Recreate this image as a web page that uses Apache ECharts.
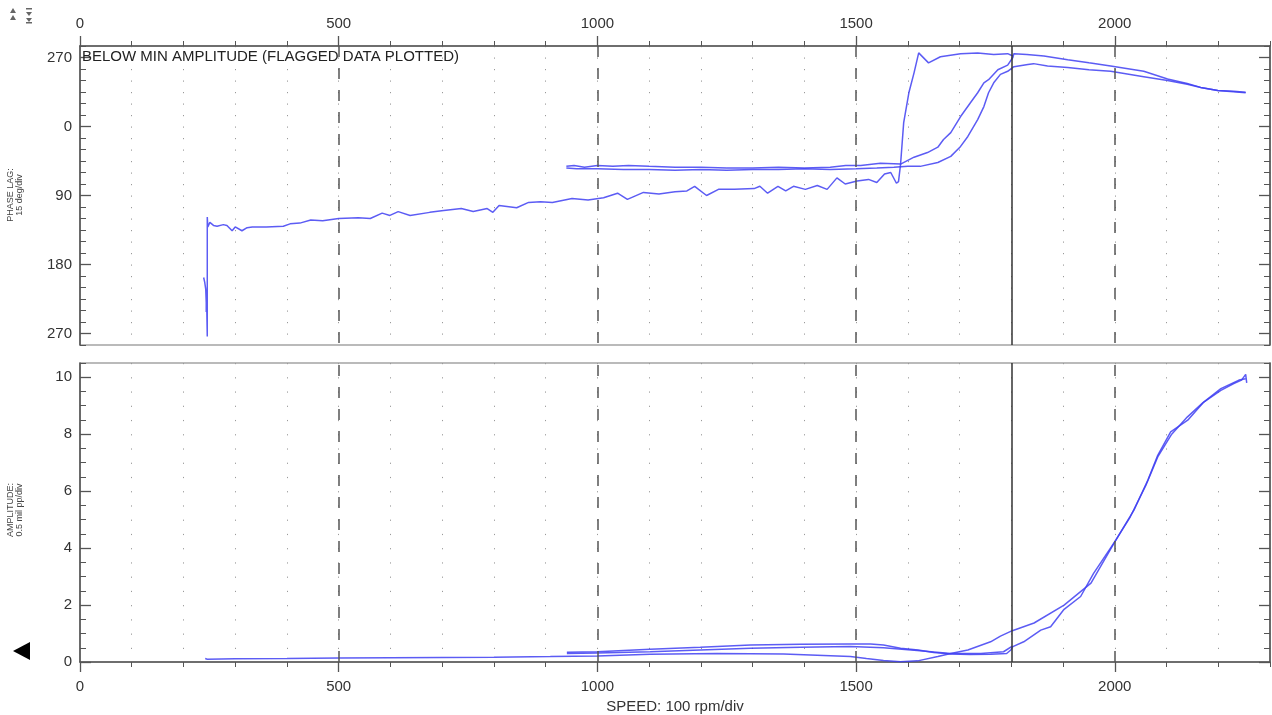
<!DOCTYPE html>
<html><head><meta charset="utf-8">
<script src="https://cdn.jsdelivr.net/npm/echarts@6/dist/echarts.min.js"></script>
<style>html,body{margin:0;padding:0;background:#fff}#c{width:1272px;height:715px}</style>
</head><body><div id="c"></div>
<script>
// ---- tick labels / reference lines ----
const speedLabels = [0, 500, 1000, 1500, 2000];
const phaseLabels = [-90, 0, 90, 180, 270];   // -90 is shown as 270 (phase wrap)
const ampLabels = [0, 2, 4, 6, 8, 10];
const dashedAt = [500, 1000, 1500, 2000];
const cursorRpm = 1800;
const flagText = 'BELOW MIN AMPLITUDE (FLAGGED DATA PLOTTED)';

// ---- phase lag traces [rpm, deg] ----
const phaseA = [[239,197],[241,203],[243,212],[244,230],[244,242],[245,222],[245,236],[246,274],[246,118],[247,131],[251,125],[258,129],[265,130],[277,128],[284,129],[294,136],[300,131],[313,136],[323,132],[333,131],[360,131],[393,130],[406,127],[425,126],[446,122],[469,123],[500,120],[538,119],[561,120],[584,113],[599,116],[615,111],[638,116],[676,112],[699,110],[737,107],[760,111],[787,107],[798,112],[810,103],[844,106],[867,99],[890,98],[913,99],[951,94],[982,96],[1012,93],[1039,87],[1058,95],[1089,86],[1119,88],[1150,85],[1173,84],[1188,78],[1211,90],[1234,82],[1265,82],[1303,81],[1314,78],[1329,87],[1349,78],[1364,84],[1379,78],[1402,82],[1425,77],[1444,82],[1463,67],[1479,75],[1502,71],[1524,69],[1540,73],[1555,62],[1567,60],[1578,74],[1582,72],[1586,49],[1592,-5],[1602,-44],[1612,-70],[1621,-96],[1640,-83],[1663,-91],[1702,-95],[1735,-96],[1766,-94],[1793,-95],[1803,-92]];
const phaseB = [[940,52],[955,51],[975,53],[1000,51],[1030,52],[1060,51],[1100,52],[1150,53],[1200,53],[1250,54],[1300,54],[1350,53],[1400,54],[1450,53],[1480,51],[1509,51],[1547,48],[1586,49],[1612,40],[1638,34],[1658,27],[1669,17],[1683,8],[1702,-13],[1721,-31],[1735,-44],[1747,-57],[1756,-61],[1774,-74],[1793,-80],[1803,-90],[1805,-95],[1830,-94],[1863,-92],[1909,-87],[1950,-83],[1992,-79],[2056,-72],[2102,-62],[2140,-56],[2166,-51],[2199,-47],[2230,-46],[2253,-44.6]];
const phaseC = [[940,54],[960,55],[1000,55],[1050,56],[1100,56],[1150,57],[1200,56],[1250,57],[1300,56],[1350,56],[1400,55],[1450,56],[1500,55],[1540,54],[1573,53],[1600,52],[1624,52],[1658,47],[1683,39],[1702,26],[1716,13],[1735,-9],[1747,-26],[1756,-44],[1766,-57],[1779,-68],[1793,-72],[1805,-78],[1832,-81],[1843,-82],[1870,-79],[1909,-77],[1950,-74],[1992,-72],[2056,-65],[2102,-60],[2140,-55],[2166,-51],[2199,-47],[2253,-44]];

// ---- amplitude traces [rpm, mil pp] ----
const ampA = [[242,0.12],[246,0.1],[300,0.11],[400,0.12],[500,0.14],[600,0.15],[700,0.16],[800,0.17],[909,0.19],[1000,0.21],[1102,0.27],[1231,0.3],[1360,0.28],[1489,0.19],[1520,0.12],[1553,0.05],[1586,0.01],[1619,0.04],[1658,0.19],[1683,0.3],[1716,0.42],[1760,0.71],[1779,0.91],[1802,1.1],[1844,1.37],[1902,2.0],[1954,2.77],[2002,4.28],[2037,5.33],[2064,6.39],[2083,7.26],[2108,8.08],[2141,8.49],[2172,9.13],[2205,9.54],[2230,9.78],[2245,9.9],[2253,10.1],[2255,9.8]];
const ampB = [[941,0.34],[1000,0.36],[1102,0.45],[1199,0.52],[1296,0.6],[1393,0.62],[1489,0.63],[1528,0.63],[1553,0.6],[1586,0.48],[1620,0.42],[1650,0.33],[1683,0.28],[1720,0.26],[1760,0.27],[1791,0.3],[1799,0.42],[1803,0.54],[1805,0.6],[1824,0.71],[1857,1.12],[1876,1.24],[1902,1.85],[1934,2.3],[1959,3.11],[2002,4.28],[2030,5.1],[2060,6.2],[2083,7.2],[2110,8.0],[2140,8.6],[2170,9.1],[2205,9.6],[2240,9.9],[2253,9.95]];
const ampC = [[941,0.3],[1000,0.32],[1102,0.36],[1199,0.42],[1296,0.48],[1393,0.52],[1489,0.54],[1553,0.5],[1618,0.4],[1683,0.3],[1741,0.3],[1785,0.36],[1802,0.56]];

const FONT = 'Liberation Sans, Arial, sans-serif';
const AX = '#555';
const LBL = '#333';
const TRACE = '#4040f2';

function xAxes(grid, pos, labelMargin, dot) {
  return [
    { gridIndex: grid, type: 'value', position: pos, min: 0, max: 2300, interval: 100,
      axisLine: { show: true, onZero: false, lineStyle: { color: AX, width: 1.5 } },
      axisTick: { show: true, inside: false, length: 5, lineStyle: { color: AX } },
      axisLabel: { customValues: speedLabels, fontSize: 15, color: LBL, fontFamily: FONT, margin: labelMargin, formatter: v => String(v) },
      splitLine: { show: true, lineStyle: { color: '#9a9a9a', width: 1, type: dot } } },
    { gridIndex: grid, type: 'value', position: pos, min: 0, max: 2300, interval: 100,
      axisLine: { show: false, onZero: false },
      axisTick: { show: true, inside: false, length: 10, customValues: speedLabels, lineStyle: { color: AX, width: 1.3 } },
      axisLabel: { show: false }, splitLine: { show: false } }
  ];
}
function yAxes(grid, min, max, step, majors, inverse, fmt) {
  const base = { gridIndex: grid, type: 'value', min: min, max: max, interval: step, inverse: inverse, splitLine: { show: false } };
  return [
    Object.assign({}, base, { position: 'left',
      axisLine: { show: true, onZero: false, lineStyle: { color: AX, width: 1.5 } },
      axisTick: { show: true, inside: true, length: 6, lineStyle: { color: AX } },
      axisLabel: { customValues: majors, fontSize: 15, color: LBL, fontFamily: FONT, margin: 8, formatter: fmt } }),
    Object.assign({}, base, { position: 'left', axisLine: { show: false, onZero: false },
      axisTick: { show: true, inside: true, length: 11, customValues: majors, lineStyle: { color: AX, width: 1.3 } },
      axisLabel: { show: false } }),
    Object.assign({}, base, { position: 'right',
      axisLine: { show: true, onZero: false, lineStyle: { color: AX, width: 1.5 } },
      axisTick: { show: true, inside: true, length: 6, lineStyle: { color: AX } },
      axisLabel: { show: false } }),
    Object.assign({}, base, { position: 'right', axisLine: { show: false, onZero: false },
      axisTick: { show: true, inside: true, length: 11, customValues: majors, lineStyle: { color: AX, width: 1.3 } },
      axisLabel: { show: false } })
  ];
}

const refLines = dashedAt.map(v => ({ xAxis: v, lineStyle: { type: [11, 11], color: '#555', width: 1.5 } }))
  .concat([{ xAxis: cursorRpm, lineStyle: { type: 'solid', color: '#333', width: 1.5 } }]);
const markLine = { silent: true, symbol: 'none', label: { show: false }, animation: false, data: refLines };

function trace(data, xi, yi, withMark) {
  const s = { type: 'line', data: data, xAxisIndex: xi, yAxisIndex: yi, symbol: 'none', smooth: false,
    lineStyle: { color: TRACE, width: 1.5, opacity: 0.85 }, z: 3 };
  if (withMark) s.markLine = markLine;
  return s;
}

const chart = echarts.init(document.getElementById('c'), null, { renderer: 'canvas' });
chart.setOption({
  animation: false,
  backgroundColor: '#fff',
  textStyle: { fontFamily: FONT },
  grid: [
    { left: 80, right: 2, top: 46, height: 299, show: true, borderColor: '#777', borderWidth: 1.2, backgroundColor: 'transparent' },
    { left: 80, right: 2, top: 363, height: 299, show: true, borderColor: '#777', borderWidth: 1.2, backgroundColor: 'transparent' }
  ],
  xAxis: xAxes(0, 'top', 15, [1.2, 10.3]).concat(xAxes(1, 'bottom', 17, [1.2, 13.04])),
  yAxis: yAxes(0, -105, 285, 15, phaseLabels, true, v => String(v < 0 ? v + 360 : v))
    .concat(yAxes(1, 0, 10.5, 0.5, ampLabels, false, v => String(v))),
  series: [
    trace(phaseA, 0, 0, true), trace(phaseB, 0, 0, false), trace(phaseC, 0, 0, false),
    trace(ampA, 2, 4, true), trace(ampB, 2, 4, false), trace(ampC, 2, 4, false)
  ],
  graphic: [
    { type: 'text', x: 82, y: 57, z: 10, style: { text: flagText, font: '15px ' + FONT, fill: '#222', textVerticalAlign: 'middle' } },
    { type: 'text', x: 15, y: 195, rotation: Math.PI / 2, style: { text: 'PHASE LAG:\n15 deg/div', font: '9px ' + FONT, fill: '#444', textAlign: 'center', textVerticalAlign: 'middle', lineHeight: 9 } },
    { type: 'text', x: 15, y: 510, rotation: Math.PI / 2, style: { text: 'AMPLITUDE:\n0.5 mil pp/div', font: '9px ' + FONT, fill: '#444', textAlign: 'center', textVerticalAlign: 'middle', lineHeight: 9 } },
    { type: 'text', x: 675, y: 707, style: { text: 'SPEED: 100 rpm/div', font: '15px ' + FONT, fill: LBL, textAlign: 'center', textVerticalAlign: 'middle' } },
    { type: 'polygon', shape: { points: [[13, 651], [30, 642], [30, 660]] }, style: { fill: '#000' } },
    { type: 'polygon', shape: { points: [[10, 13], [13, 8], [16, 13]] }, style: { fill: '#666' } },
    { type: 'polygon', shape: { points: [[10, 20], [13, 15], [16, 20]] }, style: { fill: '#666' } },
    { type: 'polygon', shape: { points: [[26, 12], [29, 16], [32, 12]] }, style: { fill: '#666' } },
    { type: 'polygon', shape: { points: [[26, 18], [29, 22], [32, 18]] }, style: { fill: '#666' } },
    { type: 'rect', shape: { x: 26, y: 8, width: 6, height: 1.5 }, style: { fill: '#666' } },
    { type: 'rect', shape: { x: 26, y: 22, width: 6, height: 1.5 }, style: { fill: '#666' } }
  ]
});
</script>
</body></html>
